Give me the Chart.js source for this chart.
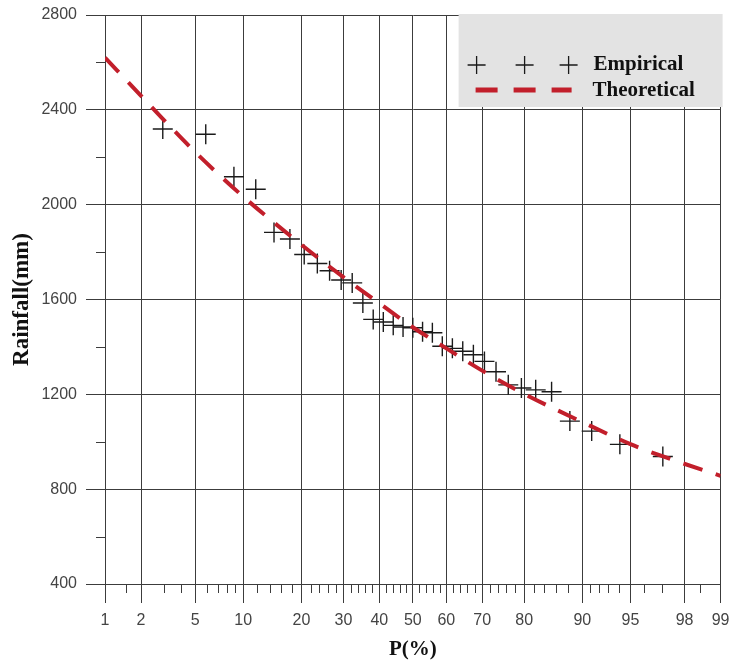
<!DOCTYPE html>
<html>
<head>
<meta charset="utf-8">
<title>Rainfall frequency curve</title>
<script src="https://cdn.jsdelivr.net/npm/chart.js@4.4.1/dist/chart.umd.min.js"></script>
<style>
  html, body { margin: 0; padding: 0; background: #fff; }
  #wrap { width: 732px; height: 665px; }
</style>
</head>
<body>
<div id="wrap"><canvas id="freqChart" width="732" height="665"></canvas></div>
<script>
// empirical points (Weibull plotting position, %) and rainfall (mm)
var empP = [2.94, 5.88, 8.82, 11.76, 14.71, 17.65, 20.59, 23.53, 26.47, 29.41, 32.35,
            35.29, 38.24, 41.18, 44.12, 47.06, 50.00, 52.94, 55.88, 58.82, 61.76, 64.71,
            67.65, 70.59, 73.53, 76.47, 79.41, 82.35, 85.29, 88.24, 91.18, 94.12, 97.06];
var empRain = [2319, 2297, 2118, 2065, 1883, 1855, 1790, 1752, 1721, 1682, 1670,
               1585, 1516, 1505, 1491, 1484, 1481, 1464, 1460, 1403, 1394, 1382,
               1367, 1339, 1295, 1240, 1227, 1219, 1211, 1087, 1045, 989, 938];

// theoretical frequency curve
var theoP = [1, 2, 3, 5, 10, 20, 30, 40, 50, 60, 70, 80, 90, 95, 97, 99];
var theoRain = [2620, 2459, 2357, 2222, 2034, 1831, 1694, 1584, 1483, 1394, 1300, 1202, 1083, 990, 940, 856];

// tick labels
var xMajor = [1, 2, 5, 10, 20, 30, 40, 50, 60, 70, 80, 90, 95, 98, 99];
var xMinor = [1.5, 3, 4, 6, 7, 8, 9, 12, 14, 16, 18, 22, 24, 26, 28, 32, 34, 36, 38,
              42, 44, 46, 48, 52, 54, 56, 58, 62, 64, 66, 68, 72, 74, 76, 78,
              82, 84, 86, 88, 91, 92, 93, 94, 96, 97, 98.5];
var yMinor = [600, 1000, 1400, 1800, 2200, 2600];

var gridColor = '#3c3c3c';
var serif = '"Liberation Serif", "Times New Roman", serif';
var sans = '"Liberation Sans", Arial, sans-serif';

// inverse normal cdf (Acklam)
function probit(p) {
    var a = [-3.969683028665376e+01, 2.209460984245205e+02, -2.759285104469687e+02, 1.383577518672690e+02, -3.066479806614716e+01, 2.506628277459239e+00];
    var b = [-5.447609879822406e+01, 1.615858368580409e+02, -1.556989798598866e+02, 6.680131188771972e+01, -1.328068155288572e+01];
    var c = [-7.784894002430293e-03, -3.223964580411365e-01, -2.400758277161838e+00, -2.549732539343734e+00, 4.374664141464968e+00, 2.938163982698783e+00];
    var d = [7.784695709041462e-03, 3.224671290700398e-01, 2.445134137142996e+00, 3.754408661907416e+00];
    var pLow = 0.02425, q, r;
    if (p < pLow) {
        q = Math.sqrt(-2 * Math.log(p));
        return (((((c[0]*q + c[1])*q + c[2])*q + c[3])*q + c[4])*q + c[5]) / ((((d[0]*q + d[1])*q + d[2])*q + d[3])*q + 1);
    }
    if (p <= 1 - pLow) {
        q = p - 0.5; r = q * q;
        return (((((a[0]*r + a[1])*r + a[2])*r + a[3])*r + a[4])*r + a[5])*q / (((((b[0]*r + b[1])*r + b[2])*r + b[3])*r + b[4])*r + 1);
    }
    q = Math.sqrt(-2 * Math.log(1 - p));
    return -(((((c[0]*q + c[1])*q + c[2])*q + c[3])*q + c[4])*q + c[5]) / ((((d[0]*q + d[1])*q + d[2])*q + d[3])*q + 1);
}

function normCdf(z) {
    var t = 1 / (1 + 0.3275911 * Math.abs(z) / Math.SQRT2);
    var y = 1 - (((((1.061405429*t - 1.453152027)*t) + 1.421413741)*t - 0.284496736)*t + 0.254829592)*t * Math.exp(-z*z/2);
    return z >= 0 ? (1 + y) / 2 : (1 - y) / 2;
}

// normal probability paper axis
class ProbabilityScale extends Chart.Scale {
    determineDataLimits() {
        this.min = this.options.min;
        this.max = this.options.max;
    }
    buildTicks() {
        return xMajor.map(function(v) { return { value: v }; });
    }
    getLabelForValue(v) {
        return String(v);
    }
    configure() {
        super.configure();
        this._zStart = probit(this.min / 100);
        this._zRange = probit(this.max / 100) - this._zStart;
    }
    getPixelForValue(v) {
        if (v === null || v === undefined || isNaN(v)) return NaN;
        return this.getPixelForDecimal((probit(v / 100) - this._zStart) / this._zRange);
    }
    getValueForPixel(px) {
        return 100 * normCdf(this._zStart + this.getDecimalForPixel(px) * this._zRange);
    }
}
ProbabilityScale.id = 'probability';
ProbabilityScale.defaults = {};
Chart.register(ProbabilityScale);

var minorTicks = {
    id: 'minorTicks',
    afterDraw: function(chart) {
        var ctx = chart.ctx, xs = chart.scales.x, ys = chart.scales.y;
        ctx.save();
        ctx.strokeStyle = gridColor;
        ctx.lineWidth = 1;
        ctx.beginPath();
        xMinor.forEach(function(v) {
            var px = Math.round(xs.getPixelForValue(v)) + 0.5;
            ctx.moveTo(px, xs.top);
            ctx.lineTo(px, xs.top + 9);
        });
        yMinor.forEach(function(v) {
            var py = Math.round(ys.getPixelForValue(v)) + 0.5;
            ctx.moveTo(ys.right - 9, py);
            ctx.lineTo(ys.right, py);
        });
        ctx.stroke();
        ctx.restore();
    }
};

// grey legend box in the top right corner
var boxLegend = {
    id: 'boxLegend',
    afterDraw: function(chart) {
        var ctx = chart.ctx, a = chart.chartArea;
        var left = a.right - 262, top = a.top - 1;
        ctx.save();
        ctx.fillStyle = '#e3e3e3';
        ctx.fillRect(left, top, 264, 93);

        // crosses
        ctx.strokeStyle = '#1a1a1a';
        ctx.lineWidth = 1.3;
        ctx.beginPath();
        [18, 66, 110].forEach(function(dx) {
            var cx = left + dx, cy = top + 51;
            ctx.moveTo(cx - 9, cy); ctx.lineTo(cx + 9, cy);
            ctx.moveTo(cx, cy - 9); ctx.lineTo(cx, cy + 9);
        });
        ctx.stroke();

        // dashed red line
        ctx.strokeStyle = '#c21f2b';
        ctx.lineWidth = 5;
        ctx.setLineDash([22, 16]);
        ctx.beginPath();
        ctx.moveTo(left + 17, top + 76);
        ctx.lineTo(left + 113, top + 76);
        ctx.stroke();
        ctx.setLineDash([]);

        ctx.fillStyle = '#111';
        ctx.font = 'bold 21px ' + serif;
        ctx.textBaseline = 'alphabetic';
        ctx.fillText('Empirical', left + 135, top + 56);
        ctx.fillText('Theoretical', left + 134, top + 82);
        ctx.restore();
    }
};

var ctx = document.getElementById('freqChart').getContext('2d');

var theoData = theoP.map(function(p, i) { return { x: p, y: theoRain[i] }; });
var empData = empP.map(function(p, i) { return { x: p, y: empRain[i] }; });

var freqChart = new Chart(ctx, {
    type: 'line',
    data: {
        datasets: [{
            label: 'Theoretical',
            data: theoData,
            borderColor: '#c21f2b',
            borderWidth: 4,
            borderDash: [20, 14],
            pointRadius: 0,
            fill: false,
            cubicInterpolationMode: 'monotone',
            order: 0
        }, {
            label: 'Empirical',
            data: empData,
            showLine: false,
            pointStyle: 'cross',
            pointRadius: 10,
            pointBorderWidth: 1.4,
            pointBorderColor: '#1a1a1a',
            borderColor: '#1a1a1a',
            order: 1
        }]
    },
    options: {
        responsive: false,
        animation: false,
        devicePixelRatio: 1,
        layout: { padding: { top: 15, right: 10, left: 0, bottom: 0 } },
        plugins: {
            legend: { display: false },
            tooltip: { enabled: false }
        },
        scales: {
            x: {
                type: 'probability',
                min: 1,
                max: 99,
                grid: { color: gridColor, tickColor: gridColor, tickLength: 19 },
                border: { color: gridColor },
                ticks: {
                    autoSkip: false,
                    maxRotation: 0,
                    padding: 8,
                    color: '#444',
                    font: { family: sans, size: 16 }
                },
                title: {
                    display: true,
                    text: 'P(%)',
                    color: '#111',
                    font: { family: serif, size: 21, weight: 'bold' },
                    padding: { top: 0, bottom: 3 }
                },
                afterFit: function(s) {
                    s.height = 81;
                    s.paddingLeft = 0;
                    s.paddingRight = 0;
                }
            },
            y: {
                min: 400,
                max: 2800,
                grid: { color: gridColor, tickColor: gridColor, tickLength: 19 },
                border: { color: gridColor },
                ticks: {
                    stepSize: 400,
                    padding: 9,
                    color: '#444',
                    font: { family: sans, size: 16 },
                    callback: function(v) { return String(v); }
                },
                title: {
                    display: true,
                    text: 'Rainfall(mm)',
                    color: '#111',
                    font: { family: serif, size: 23, weight: 'bold' },
                    padding: { top: 8, bottom: 0 }
                },
                afterFit: function(s) {
                    s.width = 105;
                    s.paddingTop = 0;
                    s.paddingBottom = 0;
                }
            }
        }
    },
    plugins: [minorTicks, boxLegend]
});
</script>
</body>
</html>
